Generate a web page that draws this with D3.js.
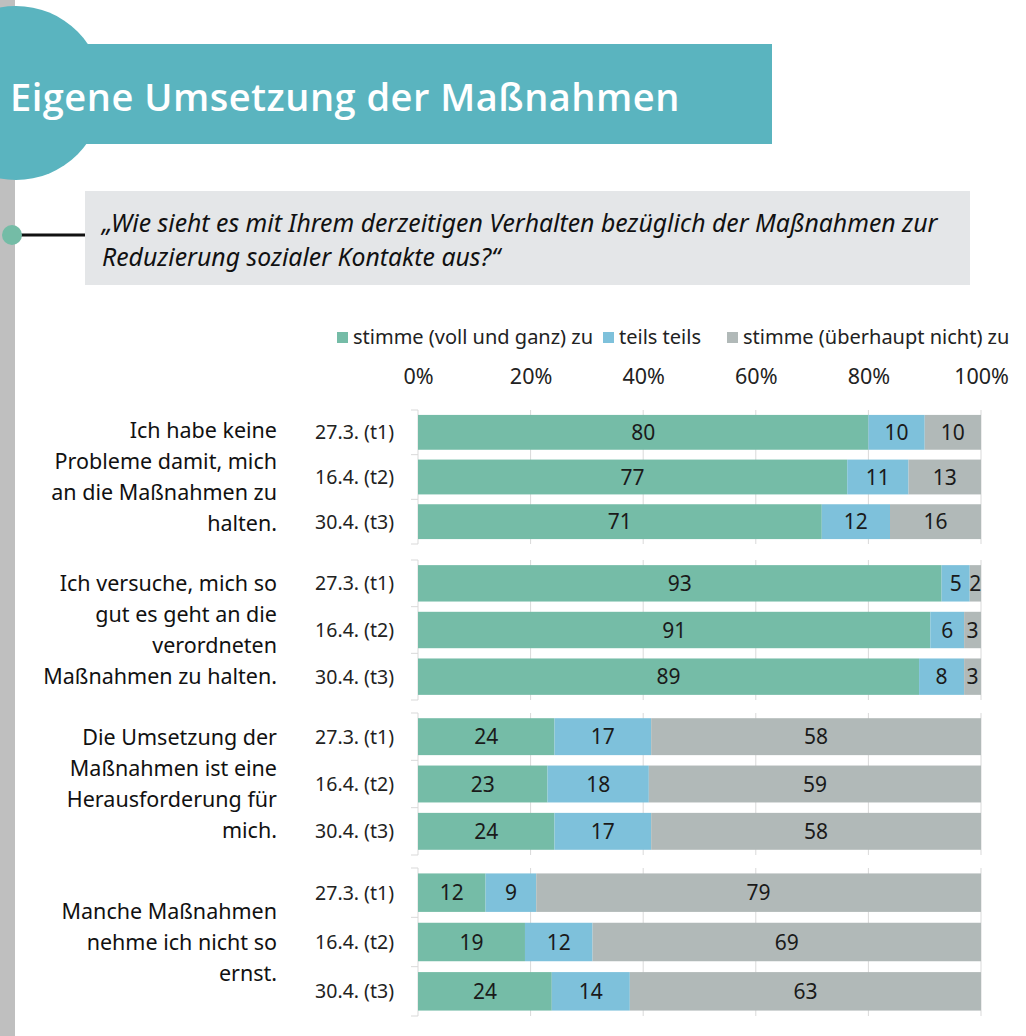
<!DOCTYPE html>
<html>
<head>
<meta charset="utf-8">
<script src="https://cdn.jsdelivr.net/npm/d3@7"></script>
<style>
  body { margin: 0; background: #fff; overflow: hidden; }
  svg { display: block; }
</style>
</head>
<body>
<div id="chart"></div>
<script>
// data
const seriesNames = ["stimme (voll und ganz) zu", "teils teils", "stimme (überhaupt nicht) zu"];
const timeLabels = ["27.3. (t1)", "16.4. (t2)", "30.4. (t3)"];
const statements = [
    ["Ich habe keine", "Probleme damit, mich", "an die Maßnahmen zu", "halten."],
    ["Ich versuche, mich so", "gut es geht an die", "verordneten", "Maßnahmen zu halten."],
    ["Die Umsetzung der", "Maßnahmen ist eine", "Herausforderung für", "mich."],
    ["Manche Maßnahmen", "nehme ich nicht so", "ernst."]
];
// one array per statement, rows = t1,t2,t3, cols = zu / teils / nicht zu
const values1 = [[80, 10, 10], [77, 11, 13], [71, 12, 16]];
const values2 = [[93, 5, 2], [91, 6, 3], [89, 8, 3]];
const values3 = [[24, 17, 58], [23, 18, 59], [24, 17, 58]];
const values4 = [[12, 9, 79], [19, 12, 69], [24, 14, 63]];
const tickValues = [0, 20, 40, 60, 80, 100];

const allValues = [values1, values2, values3, values4];

// layout
const width = 1026, height = 1036;
const color = ["#75bca7", "#7ec1db", "#b1b9b8"];
const font = "'Noto Sans', 'Open Sans', sans-serif";
// vertical extent of each statement block
const groupRanges = [[410, 544], [560, 700], [713, 855], [868, 1016]];

const svg = d3.create("svg")
    .attr("width", width)
    .attr("height", height)
    .style("font-family", font);

// header decoration
svg.append("rect")
    .attr("x", 0).attr("y", 0)
    .attr("width", 15).attr("height", height)
    .attr("fill", "#bfbfbf");

svg.append("circle")
    .attr("cx", 16).attr("cy", 93).attr("r", 87)
    .attr("fill", "#5ab4bf");

svg.append("rect")
    .attr("x", 0).attr("y", 44)
    .attr("width", 772).attr("height", 100)
    .attr("fill", "#5ab4bf");

svg.append("text")
    .attr("x", 10).attr("y", 111)
    .attr("fill", "#fff")
    .style("font-family", "'Open Sans', sans-serif")
    .style("font-weight", 600)
    .style("font-size", "38px")
    .style("letter-spacing", "0.5px")
    .text("Eigene Umsetzung der Maßnahmen");

// question box
svg.append("rect")
    .attr("x", 85).attr("y", 191)
    .attr("width", 885).attr("height", 94)
    .attr("fill", "#e4e6e8");

svg.append("line")
    .attr("x1", 14).attr("x2", 85)
    .attr("y1", 235).attr("y2", 235)
    .attr("stroke", "#111").attr("stroke-width", 3);

svg.append("circle")
    .attr("cx", 12).attr("cy", 235).attr("r", 10)
    .attr("fill", "#74bca6");

const question = svg.append("text")
    .attr("fill", "#111")
    .style("font-style", "italic")
    .style("font-size", "24.8px");
question.append("tspan").attr("x", 102).attr("y", 232)
    .text("„Wie sieht es mit Ihrem derzeitigen Verhalten bezüglich der Maßnahmen zur");
question.append("tspan").attr("x", 102).attr("y", 266)
    .text("Reduzierung sozialer Kontakte aus?“");

// legend
const legendX = [337, 603, 727];
const legend = svg.append("g").style("font-size", "20px").attr("fill", "#222");
seriesNames.forEach((name, i) => {
    legend.append("rect")
        .attr("x", legendX[i]).attr("y", 332)
        .attr("width", 11).attr("height", 11)
        .attr("fill", color[i]);
    legend.append("text")
        .attr("x", legendX[i] + 16).attr("y", 344)
        .text(name);
});

// x scale
const x = d3.scaleLinear().domain([0, 100]).range([418, 981]);

// top axis
svg.append("g")
    .attr("transform", "translate(0,387)")
    .call(d3.axisTop(x).tickValues(tickValues).tickFormat(d => d + "%").tickSize(0))
    .call(g => g.select(".domain").remove())
    .call(g => g.selectAll("text")
        .style("font-family", font)
        .style("font-size", "21.5px")
        .attr("fill", "#222"));

// statement blocks
allValues.forEach((rows, gi) => {
    const [top, bottom] = groupRanges[gi];
    const y = d3.scaleBand()
        .domain(timeLabels)
        .range([top, bottom])
        .paddingInner(0.22)
        .paddingOuter(0.11);

    const g = svg.append("g");

    // gridlines
    g.selectAll("line.grid")
        .data(tickValues)
        .join("line")
        .attr("x1", d => x(d)).attr("x2", d => x(d))
        .attr("y1", top).attr("y2", bottom)
        .attr("stroke", "#d9d9d9").attr("stroke-width", 1);

    // little category ticks on the left axis
    const step = y.step();
    g.selectAll("line.tick")
        .data(d3.range(timeLabels.length + 1))
        .join("line")
        .attr("x1", x(0) - 7).attr("x2", x(0))
        .attr("y1", i => top + i * step).attr("y2", i => top + i * step)
        .attr("stroke", "#d9d9d9");

    // stacked bars (normalised to 100%)
    rows.forEach((vals, ri) => {
        const total = d3.sum(vals);
        let acc = 0;
        vals.forEach((v, si) => {
            const x0 = x(acc / total * 100);
            acc += v;
            const x1 = x(acc / total * 100);
            g.append("rect")
                .attr("x", x0).attr("y", y(timeLabels[ri]))
                .attr("width", x1 - x0).attr("height", y.bandwidth())
                .attr("fill", color[si]);
            g.append("text")
                .attr("x", (x0 + x1) / 2)
                .attr("y", y(timeLabels[ri]) + y.bandwidth() / 2)
                .attr("dy", "0.36em")
                .attr("text-anchor", "middle")
                .style("font-size", "21px")
                .attr("fill", "#1a1a1a")
                .text(v);
        });

        // row label
        g.append("text")
            .attr("x", 394)
            .attr("y", y(timeLabels[ri]) + y.bandwidth() / 2)
            .attr("dy", "0.36em")
            .attr("text-anchor", "end")
            .style("font-size", "19.5px")
            .attr("fill", "#222")
            .text(timeLabels[ri]);
    });

    // statement label
    const lines = statements[gi];
    const lh = 31;
    const cy = (top + bottom) / 2;
    const label = g.append("text")
        .attr("text-anchor", "end")
        .style("font-size", "21.5px")
        .attr("fill", "#111");
    lines.forEach((l, li) => {
        label.append("tspan")
            .attr("x", 277)
            .attr("y", cy + (li - (lines.length - 1) / 2) * lh)
            .attr("dy", "0.36em")
            .text(l);
    });
});

document.getElementById("chart").appendChild(svg.node());
</script>
</body>
</html>
